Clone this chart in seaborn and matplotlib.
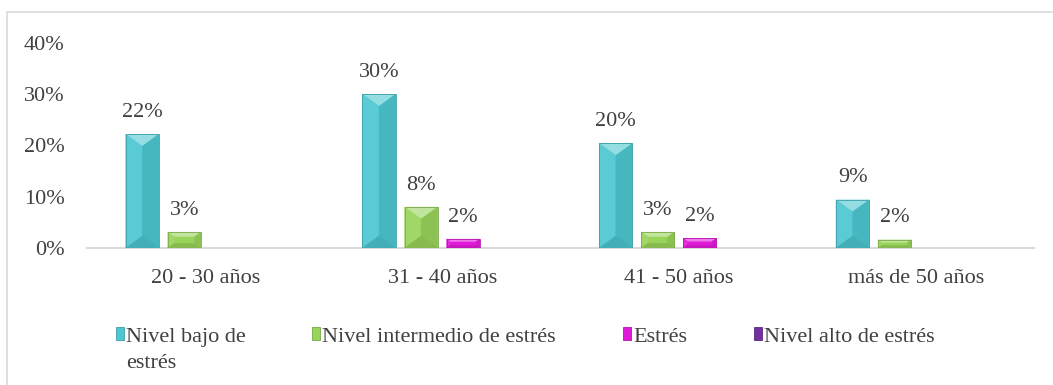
import matplotlib
matplotlib.use("Agg")
import matplotlib.pyplot as plt
from matplotlib.patches import Polygon, Patch, Rectangle
from matplotlib.colors import to_rgb
import numpy as np
import pandas as pd
import seaborn as sns

# Age groups and stress level shares (fraction of respondents)
age_groups = ["20 - 30 años", "31 - 40 años", "41 - 50 años", "más de 50 años"]
levels = ["Nivel bajo de estrés", "Nivel intermedio de estrés", "Estrés", "Nivel alto de estrés"]
bajo = [0.222, 0.300, 0.204, 0.094]
intermedio = [0.031, 0.080, 0.031, 0.016]
estres = [0.000, 0.0175, 0.019, 0.000]
alto = [0.000, 0.000, 0.000, 0.000]
y_ticks = [0.0, 0.1, 0.2, 0.3, 0.4]

colors = ["#4cc6d0", "#98d35a", "#e11ad9", "#7030a0"]

rows = []
for lvl, vals in zip(levels, [bajo, intermedio, estres, alto]):
    for g, v in zip(age_groups, vals):
        rows.append({"grupo": g, "nivel": lvl, "valor": v})
df = pd.DataFrame(rows)

sns.set_style("white")
plt.rcParams["font.family"] = ["Liberation Serif", "DejaVu Serif"]
text_color = "#404040"
fs = 16

W, H = 1053, 385
fig = plt.figure(figsize=(W / 100, H / 100), dpi=100)
ax = fig.add_axes([87 / W, 137 / H, (1034 - 87) / W, (342 - 137) / H])

sns.barplot(data=df, x="grupo", y="valor", hue="nivel", order=age_groups,
            hue_order=levels, palette=colors, width=0.71, gap=0.21,
            legend=False, ax=ax, saturation=1, edgecolor="none", linewidth=0)

ax.set_ylim(0, 0.4)
ax.set_xlim(-0.5, len(age_groups) - 0.5)
ax.set_yticks(y_ticks)
ax.set_yticklabels([f"{t:.0%}" for t in y_ticks])
ax.set_xlabel("")
ax.set_ylabel("")
ax.tick_params(axis="both", length=0, labelsize=fs, colors=text_color)
ax.tick_params(axis="y", pad=16)
ax.tick_params(axis="x", pad=15)
for s in ["top", "right", "left"]:
    ax.spines[s].set_visible(False)
ax.spines["bottom"].set_color("#d9d9d9")
ax.spines["bottom"].set_linewidth(1.5)
ax.grid(False)


def shade(c, f):
    r, g, b = to_rgb(c)
    if f >= 0:
        return (r + (1 - r) * f, g + (1 - g) * f, b + (1 - b) * f)
    return (r * (1 + f), g * (1 + f), b * (1 + f))


# Bevelled faces on each bar, built from the bar's own geometry
fig.canvas.draw()
to_disp = ax.transData
to_data = ax.transData.inverted()
n_groups = len(age_groups)
bars = [p for p in ax.patches if isinstance(p, Rectangle)]
for i, p in enumerate(bars):
    h = p.get_height()
    if h <= 0:
        continue
    base = colors[i // n_groups]
    x0, y0 = p.get_x(), p.get_y()
    x1, y1 = x0 + p.get_width(), y0 + h
    (px0, py0), (px1, py1) = to_disp.transform([(x0, y0), (x1, y1)])
    wpx, hpx = px1 - px0, py1 - py0
    dy = min(12.0, hpx / 3.0)
    dx = min(wpx / 2.0, dy * 1.4)
    pts = {
        "A": (px0, py1), "B": (px1, py1), "C": (px1, py0), "D": (px0, py0),
        "a": (px0 + dx, py1 - dy), "b": (px1 - dx, py1 - dy),
        "c": (px1 - dx, py0 + dy), "d": (px0 + dx, py0 + dy),
    }
    faces = [
        (["A", "B", "b", "a"], shade(base, 0.4)),
        (["A", "a", "d", "D"], shade(base, 0.08)),
        (["B", "C", "c", "b"], shade(base, -0.08)),
        (["D", "d", "c", "C"], shade(base, -0.12)),
        (["a", "b", "c", "d"], shade(base, 0.0)),
    ]
    for keys, col in faces:
        poly = to_data.transform([pts[k] for k in keys])
        ax.add_patch(Polygon(poly, closed=True, facecolor=col,
                             edgecolor=col, linewidth=0.3, zorder=3))
    ax.add_patch(Rectangle((x0, y0), x1 - x0, h, facecolor="none",
                           edgecolor=shade(base, -0.2), linewidth=0.6, zorder=4))
    ax.annotate(f"{h:.0%}", (p.get_x() + p.get_width() / 2, y1),
                xytext=(0, 9), textcoords="offset points", ha="center",
                va="bottom", fontsize=fs, color=text_color, zorder=5)

handles = [Patch(facecolor=c, edgecolor=shade(c, -0.2), linewidth=0.6) for c in colors]
labels = ["Nivel bajo de", levels[1], levels[2], levels[3]]
leg = fig.legend(handles, labels, loc="center", bbox_to_anchor=(525 / W, 1 - 337 / H),
                 ncol=4, frameon=False, fontsize=fs, handlelength=0.36,
                 handleheight=0.5, handletextpad=0.1, columnspacing=3.0,
                 labelcolor=text_color, borderaxespad=0)

# second line of the first legend entry
fig.canvas.draw()
renderer = fig.canvas.get_renderer()
bb = leg.get_texts()[0].get_window_extent(renderer)
fig.text(bb.x0 / W, (bb.y0 - 26) / H, "estrés", fontsize=fs,
         color=text_color, ha="left", va="bottom")

# light chart frame
fig.patches.append(Rectangle((7 / W, -0.05), 1.1, (373 / H) + 0.05,
                             transform=fig.transFigure, facecolor="none",
                             edgecolor="#d9d9d9", linewidth=1.2))

fig.savefig("out.png", dpi=100, facecolor="white")
